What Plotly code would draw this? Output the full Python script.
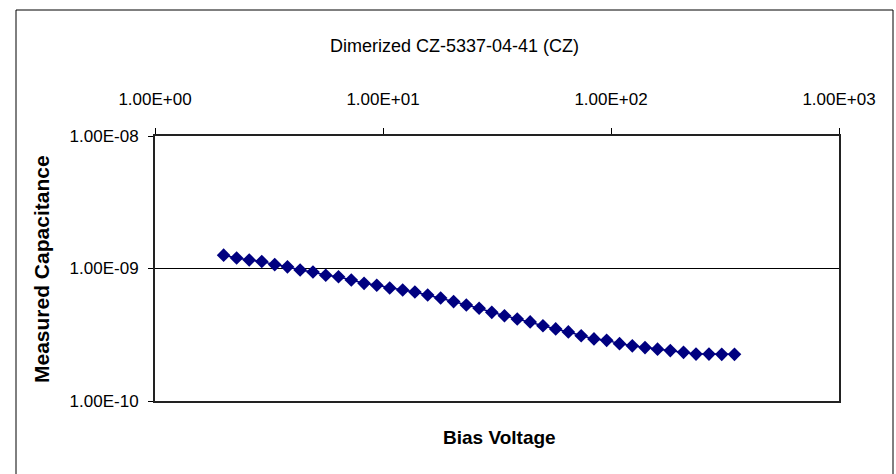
import plotly.graph_objects as go

# Bias sweep (V) and measured capacitance (F)
bias_voltage = [2.00, 2.28, 2.59, 2.94, 3.35, 3.81, 4.33, 4.93, 5.61, 6.38,
                7.26, 8.26, 9.39, 10.7, 12.2, 13.8, 15.7, 17.9, 20.4, 23.2,
                26.4, 30.0, 34.1, 38.8, 44.2, 50.3, 57.2, 65.0, 74.0, 84.2,
                95.7, 109, 124, 141, 160, 182, 208, 236, 269, 306, 348]
capacitance = [1.26e-9, 1.20e-9, 1.16e-9, 1.13e-9, 1.07e-9, 1.03e-9, 9.74e-10, 9.41e-10, 8.89e-10, 8.67e-10,
               8.19e-10, 7.73e-10, 7.47e-10, 7.13e-10, 6.88e-10, 6.65e-10, 6.31e-10, 5.99e-10, 5.63e-10, 5.30e-10,
               5.01e-10, 4.67e-10, 4.40e-10, 4.16e-10, 3.95e-10, 3.70e-10, 3.50e-10, 3.32e-10, 3.11e-10, 2.94e-10,
               2.87e-10, 2.71e-10, 2.61e-10, 2.53e-10, 2.46e-10, 2.40e-10, 2.33e-10, 2.26e-10, 2.26e-10, 2.25e-10, 2.25e-10]

x_tickvals = [1, 10, 100, 1000]
x_ticktext = ["1.00E+00", "1.00E+01", "1.00E+02", "1.00E+03"]
y_tickvals = [1e-10, 1e-9, 1e-8]
y_ticktext = ["1.00E-10", "1.00E-09", "1.00E-08"]

title_text = "Dimerized CZ-5337-04-41 (CZ)"
x_title = "Bias Voltage"
y_title = "Measured Capacitance"

W, H = 896, 474
ML, MR, MT, MB = 155, 57, 136, 73
pw, ph = W - ML - MR, H - MT - MB

def px_x(px):
    return (px - ML) / pw

def px_y(py):
    return (H - MB - py) / ph

FONT = "Liberation Sans, Arial, sans-serif"

fig = go.Figure()
fig.add_trace(go.Scatter(
    x=bias_voltage, y=capacitance, mode="lines+markers",
    line=dict(color="#000080", width=1.5),
    marker=dict(symbol="diamond", size=10.5, color="#000080"),
    showlegend=False,
))

fig.update_layout(
    width=W, height=H,
    margin=dict(l=ML, r=MR, t=MT, b=MB),
    paper_bgcolor="white", plot_bgcolor="white",
    title=dict(text=title_text, x=454.5 / W, xanchor="center", xref="container",
               y=1 - 46 / H, yanchor="middle", yref="container",
               font=dict(family=FONT, size=18, color="black")),
    xaxis=dict(type="log", range=[0, 3], side="top",
               tickvals=x_tickvals, ticktext=x_ticktext,
               ticks="outside", ticklen=6, tickwidth=1, tickcolor="black",
               ticklabelstandoff=16,
               showgrid=False, zeroline=False,
               showline=True, linecolor="#222", linewidth=2, mirror=True,
               tickfont=dict(family=FONT, size=17, color="black")),
    yaxis=dict(type="log", range=[-10, -8],
               tickvals=y_tickvals, ticktext=y_ticktext,
               ticks="outside", ticklen=5, tickwidth=1, tickcolor="black",
               ticklabelstandoff=6,
               showgrid=True, gridcolor="black", gridwidth=1, zeroline=False,
               showline=True, linecolor="#222", linewidth=2, mirror=True,
               tickfont=dict(family=FONT, size=17, color="black")),
    shapes=[dict(type="rect", xref="paper", yref="paper",
                 x0=px_x(16), x1=px_x(893), y0=px_y(476), y1=px_y(10),
                 line=dict(color="black", width=1), layer="below")],
    annotations=[
        dict(text="<b>%s</b>" % x_title, xref="paper", yref="paper",
             x=px_x(499), y=px_y(437), xanchor="center", yanchor="middle",
             showarrow=False, font=dict(family=FONT, size=19, color="black")),
        dict(text="<b>%s</b>" % y_title, xref="paper", yref="paper",
             x=px_x(41), y=px_y(269), xanchor="center", yanchor="middle",
             textangle=-90, showarrow=False,
             font=dict(family=FONT, size=21, color="black")),
    ],
)

fig.write_html("out.html")
